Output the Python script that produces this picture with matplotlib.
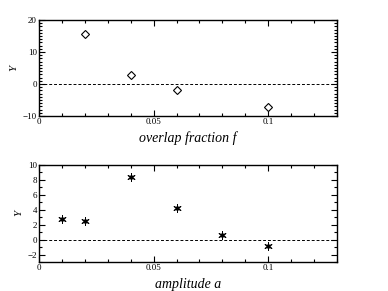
import matplotlib
matplotlib.use("Agg")
import matplotlib.pyplot as plt
from matplotlib.ticker import MultipleLocator, FixedLocator

plt.rcParams['font.family'] = ['Liberation Serif', 'DejaVu Serif']

f_vals = [0.02, 0.04, 0.06, 0.10]
f_Y = [15.6, 2.8, -2.0, -7.1]
a_vals = [0.01, 0.02, 0.04, 0.06, 0.08, 0.10]
a_Y = [2.8, 2.5, 8.4, 4.2, 0.6, -0.8]
x_ticks = [0, 0.05, 0.1]
x_ticklabels = ["0", "0.05", "0.1"]

fig = plt.figure(figsize=(3.88, 2.91), dpi=100)
ax1 = fig.add_axes([0.1005, 0.6014, 0.768, 0.330])
ax2 = fig.add_axes([0.1005, 0.0997, 0.768, 0.3343])

def style(ax, ymin, ymax, ymaj, ymin_step):
    ax.set_xlim(0, 0.13)
    ax.set_ylim(ymin, ymax)
    ax.xaxis.set_major_locator(FixedLocator(x_ticks))
    ax.set_xticklabels(x_ticklabels)
    ax.xaxis.set_minor_locator(MultipleLocator(0.01))
    ax.yaxis.set_major_locator(MultipleLocator(ymaj))
    ax.yaxis.set_minor_locator(MultipleLocator(ymin_step))
    ax.tick_params(which='both', direction='in', top=True, right=True,
                   labelsize=6.5, pad=1.5, width=0.8)
    ax.tick_params(which='major', length=4)
    ax.tick_params(which='minor', length=2)
    for s in ax.spines.values():
        s.set_linewidth(1.0)
    ax.axhline(0, color='black', lw=0.7, ls=(0, (3, 2)))
    ax.set_ylabel("Y", fontstyle='italic', fontsize=8, labelpad=3)

style(ax1, -10, 20, 10, 1)
style(ax2, -3, 10, 2, 1)

ax1.plot(f_vals, f_Y, ls='none', marker='D', ms=4.3, mfc='white', mec='black', mew=0.8)
ax2.plot(a_vals, a_Y, ls='none', marker=(6, 2, 0), ms=6, mec='black', mew=0.7)
ax2.plot(a_vals, a_Y, ls='none', marker='o', ms=2.2, mfc='black', mec='black')

ax1.set_xlabel("overlap fraction f", fontstyle='italic', fontsize=10, labelpad=4)
ax2.set_xlabel("amplitude a", fontstyle='italic', fontsize=10, labelpad=4)

fig.savefig("out.png", dpi=100)
